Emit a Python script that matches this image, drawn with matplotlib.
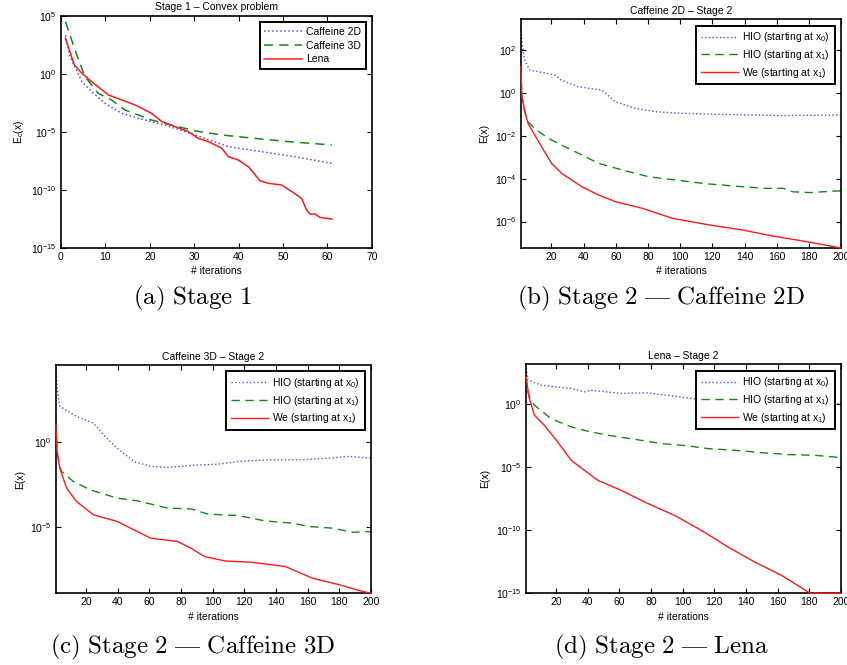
import numpy as np
import matplotlib
matplotlib.use("Agg")
import matplotlib.pyplot as plt
from matplotlib.ticker import FixedLocator, NullLocator, LogFormatterSciNotation

plt.rcParams['font.family'] = ['Liberation Sans', 'DejaVu Sans']
plt.rcParams['mathtext.fontset'] = 'custom'
plt.rcParams['mathtext.rm'] = 'Liberation Sans'
plt.rcParams['mathtext.it'] = 'Liberation Sans'
plt.rcParams['mathtext.default'] = 'regular'

BLUE = '#4d4dff'
GREEN = '#11891a'
RED = '#ff1a1a'

# ---- Stage 1 (log10 of E_c) ----
s1_c2d_it = [1, 2, 3.5, 4.7, 6.9, 9.9, 13.7, 17.4, 23.4, 30.2, 37.7, 45.2, 52.7, 61]
s1_c2d_log = [3.36, 1.5, 0.34, -0.66, -1.52, -2.53, -3.39, -3.82, -4.4, -5.26, -6.26, -6.7, -7.13, -7.7]
s1_c3d_it = [1, 3.15, 5.4, 8.4, 11.4, 14.4, 20.4, 24.9, 30.2, 36.2, 43.7, 51.2, 61]
s1_c3d_log = [4.51, 2.07, -0.23, -1.67, -2.24, -3.1, -3.97, -4.4, -4.9, -5.26, -5.55, -5.83, -6.12]
s1_lena_it = [1, 3, 4.7, 6.9, 10.7, 13.7, 16.7, 20.4, 22.7, 25.7, 28.7, 30.9, 33.2, 36.2,
              37.7, 39.9, 42.2, 44.8, 46.7, 49.7, 52, 54.2, 55.3, 56.1, 57.2, 58.3, 61]
s1_lena_log = [3.08, 0.78, 0.06, -0.66, -1.81, -2.24, -2.67, -3.39, -4.1, -4.54, -4.97, -5.55,
               -5.83, -6.4, -7.13, -7.41, -7.99, -9.2, -9.42, -9.57, -10.14, -10.72, -11.72,
               -12.07, -12.07, -12.36, -12.5]

# ---- Stage 2, Caffeine 2D ----
b_hio0_it = [1, 1.6, 3.3, 6.4, 22, 26, 36.7, 51.3, 59.6, 72, 84.7, 101, 122, 143, 164, 200]
b_hio0_log = [3.45, 2.33, 1.55, 1.08, 0.85, 0.61, 0.30, 0.14, -0.40, -0.71, -0.87, -0.94,
              -0.99, -1.02, -1.05, -1.02]
b_hio1_it = [1, 1.6, 3.3, 5.4, 9.6, 17.9, 26.3, 36.7, 49.2, 63.8, 80.5, 97.2, 114, 132.7,
             153.5, 164, 170, 180.6, 197.3, 200]
b_hio1_log = [1.23, -0.17, -0.87, -1.34, -1.65, -2.11, -2.43, -2.81, -3.28, -3.59, -3.91,
              -4.06, -4.22, -4.34, -4.45, -4.45, -4.61, -4.65, -4.57, -4.58]
b_we_it = [1, 1.6, 3.3, 5.4, 9.6, 13.8, 20, 26.3, 38.8, 49.2, 59.6, 76.3, 95.1, 118, 139,
           157.7, 178.5, 200]
b_we_log = [1.23, -0.17, -0.79, -1.41, -1.96, -2.5, -3.28, -3.75, -4.37, -4.76, -5.07, -5.38,
            -5.85, -6.16, -6.40, -6.68, -6.94, -7.24]

# ---- Stage 2, Caffeine 3D ----
c_hio0_it = [1, 1.7, 3.4, 14, 24.7, 31, 39.6, 50.2, 60.8, 71.5, 86.3, 103.4, 116, 135.2,
             156.5, 173.5, 186, 200]
c_hio0_log = [4.58, 3.22, 2.13, 1.54, 1.14, 0.45, -0.34, -1.13, -1.42, -1.48, -1.36, -1.29,
              -1.13, -1.03, -1.03, -0.93, -0.83, -0.93]
c_hio1_it = [1, 1.7, 3.4, 4.5, 11.9, 22.6, 39.6, 52.3, 71.5, 86.3, 97, 116, 133, 150, 160.8,
             175.6, 188.4, 200]
c_hio1_log = [1.04, -0.54, -1.45, -1.72, -2.31, -2.81, -3.3, -3.46, -3.89, -3.94, -4.25,
              -4.33, -4.65, -4.78, -4.98, -5.08, -5.32, -5.28]
c_we_it = [1, 1.7, 3.4, 7.7, 14, 24.7, 39.6, 50.2, 60.8, 77.8, 86.3, 94.8, 107.6, 124.6,
           145.8, 162.9, 179.9, 194.8, 200]
c_we_log = [1.04, -0.54, -1.52, -2.71, -3.5, -4.29, -4.68, -5.18, -5.67, -5.87, -6.27, -6.76,
            -7.02, -7.1, -7.35, -8.04, -8.43, -8.83, -8.93]

# ---- Stage 2, Lena ----
d_hio0_it = [1, 2, 10.5, 29.5, 37.9, 42, 61, 78, 92.8, 105.5, 150, 200]
d_hio0_log = [3.12, 1.9, 1.48, 1.21, 0.95, 1.08, 0.82, 0.87, 0.63, 0.42, 0.2, 0.0]
d_hio1_it = [1, 2, 4, 6.3, 16.8, 29.5, 40, 52.7, 69.6, 86.5, 103.4, 116, 132.9, 149.8,
             166.7, 183.6, 200]
d_hio1_log = [2.14, 1.0, 0.3, -0.11, -1.17, -1.83, -2.17, -2.49, -2.81, -3.15, -3.33, -3.55,
              -3.68, -3.87, -4.02, -4.08, -4.26]
d_we_it = [1, 3.1, 6.3, 12.6, 21, 29.5, 37.9, 46.4, 61.2, 78.1, 94.9, 111.8, 128.7, 145.6,
           162.5, 180.4, 200]
d_we_log = [2.14, 0.42, -0.9, -1.7, -3.02, -4.47, -5.27, -6.06, -6.86, -7.91, -8.84, -10.03,
            -11.35, -12.54, -13.6, -15.0, -15.0]

stage2_labels = ['HIO (starting at x$_0$)', 'HIO (starting at x$_1$)', 'We (starting at x$_1$)']


def style_axes(ax, yticks):
    ax.set_yscale('log')
    ax.yaxis.set_major_locator(FixedLocator(yticks))
    ax.yaxis.set_major_formatter(LogFormatterSciNotation())
    ax.yaxis.set_minor_locator(NullLocator())
    ax.tick_params(direction='in', length=3.5, width=0.8, top=True, right=True,
                   labelsize=7.5, pad=3)
    for sp in ax.spines.values():
        sp.set_linewidth(1.2)


def add_legend(ax, fs=7.5):
    leg = ax.legend(loc='upper right', fontsize=fs, fancybox=False, framealpha=1,
                    edgecolor='black', handlelength=3.6, handletextpad=0.4,
                    labelspacing=0.35, borderaxespad=0.6, borderpad=0.45)
    leg.get_frame().set_linewidth(1.4)


def lg(v):
    return 10.0 ** np.array(v)


fig = plt.figure(figsize=(8.47, 6.65), dpi=100)

# (a)
ax = fig.add_axes([0.072, 0.627, 0.367, 0.349])
ax.plot(s1_c2d_it, lg(s1_c2d_log), ':', color=BLUE, lw=1.1, label='Caffeine 2D')
ax.plot(s1_c3d_it, lg(s1_c3d_log), '--', color=GREEN, lw=1.1, dashes=(6, 4), label='Caffeine 3D')
ax.plot(s1_lena_it, lg(s1_lena_log), '-', color=RED, lw=1.1, label='Lena')
style_axes(ax, [1e-15, 1e-10, 1e-5, 1e0, 1e5])
ax.set_xlim(0, 70)
ax.set_ylim(1e-15, 1e5)
ax.set_xticks(np.arange(0, 71, 10))
ax.set_title('Stage 1 – Convex problem', fontsize=7.5, pad=4)
ax.set_xlabel('# iterations', fontsize=7.5, labelpad=3)
ax.set_ylabel('E$_c$(x)', fontsize=7.5, labelpad=4)
add_legend(ax)

panels = [
    ([0.615, 0.627, 0.378, 0.344], 'Caffeine 2D – Stage 2',
     (b_hio0_it, b_hio0_log), (b_hio1_it, b_hio1_log), (b_we_it, b_we_log),
     [1e-6, 1e-4, 1e-2, 1e0, 1e2], None),
    ([0.0661, 0.108, 0.372, 0.343], 'Caffeine 3D – Stage 2',
     (c_hio0_it, c_hio0_log), (c_hio1_it, c_hio1_log), (c_we_it, c_we_log),
     [1e-5, 1e0], None),
    ([0.621, 0.108, 0.372, 0.344], 'Lena – Stage 2',
     (d_hio0_it, d_hio0_log), (d_hio1_it, d_hio1_log), (d_we_it, d_we_log),
     [1e-15, 1e-10, 1e-5, 1e0], 1e-15),
]

for rect, title, s0, s1, s2, yt, ybot in panels:
    ax = fig.add_axes(rect)
    ax.plot(s0[0], lg(s0[1]), ':', color=BLUE, lw=1.0, label=stage2_labels[0])
    ax.plot(s1[0], lg(s1[1]), '--', color=GREEN, lw=1.0, dashes=(6, 4), label=stage2_labels[1])
    ax.plot(s2[0], lg(s2[1]), '-', color=RED, lw=1.0, label=stage2_labels[2],
            clip_on=False, zorder=3)
    style_axes(ax, yt)
    allv = np.concatenate([s0[1], s1[1], s2[1]])
    ax.set_ylim(10.0 ** allv.min() if ybot is None else ybot, 10.0 ** allv.max())
    ax.set_xlim(1, 200)
    ax.set_xticks(np.arange(20, 201, 20))
    ax.set_title(title, fontsize=7.5, pad=4)
    ax.set_xlabel('# iterations', fontsize=7.5, labelpad=3)
    ax.set_ylabel('E(x)', fontsize=7.5, labelpad=4)
    add_legend(ax)

captions = [
    (192.5 / 847, 1 - 298 / 665, r'$\mathrm{(a)\ Stage\ 1}$'),
    (661 / 847, 1 - 298 / 665, r'$\mathrm{(b)\ Stage\ 2\ —\ Caffeine\ 2D}$'),
    (192.5 / 847, 1 - 647 / 665, r'$\mathrm{(c)\ Stage\ 2\ —\ Caffeine\ 3D}$'),
    (661 / 847, 1 - 647 / 665, r'$\mathrm{(d)\ Stage\ 2\ —\ Lena}$'),
]
for x, y, txt in captions:
    fig.text(x, y, txt, ha='center', va='center', fontsize=18, math_fontfamily='cm')

fig.savefig('out.png', dpi=100)
